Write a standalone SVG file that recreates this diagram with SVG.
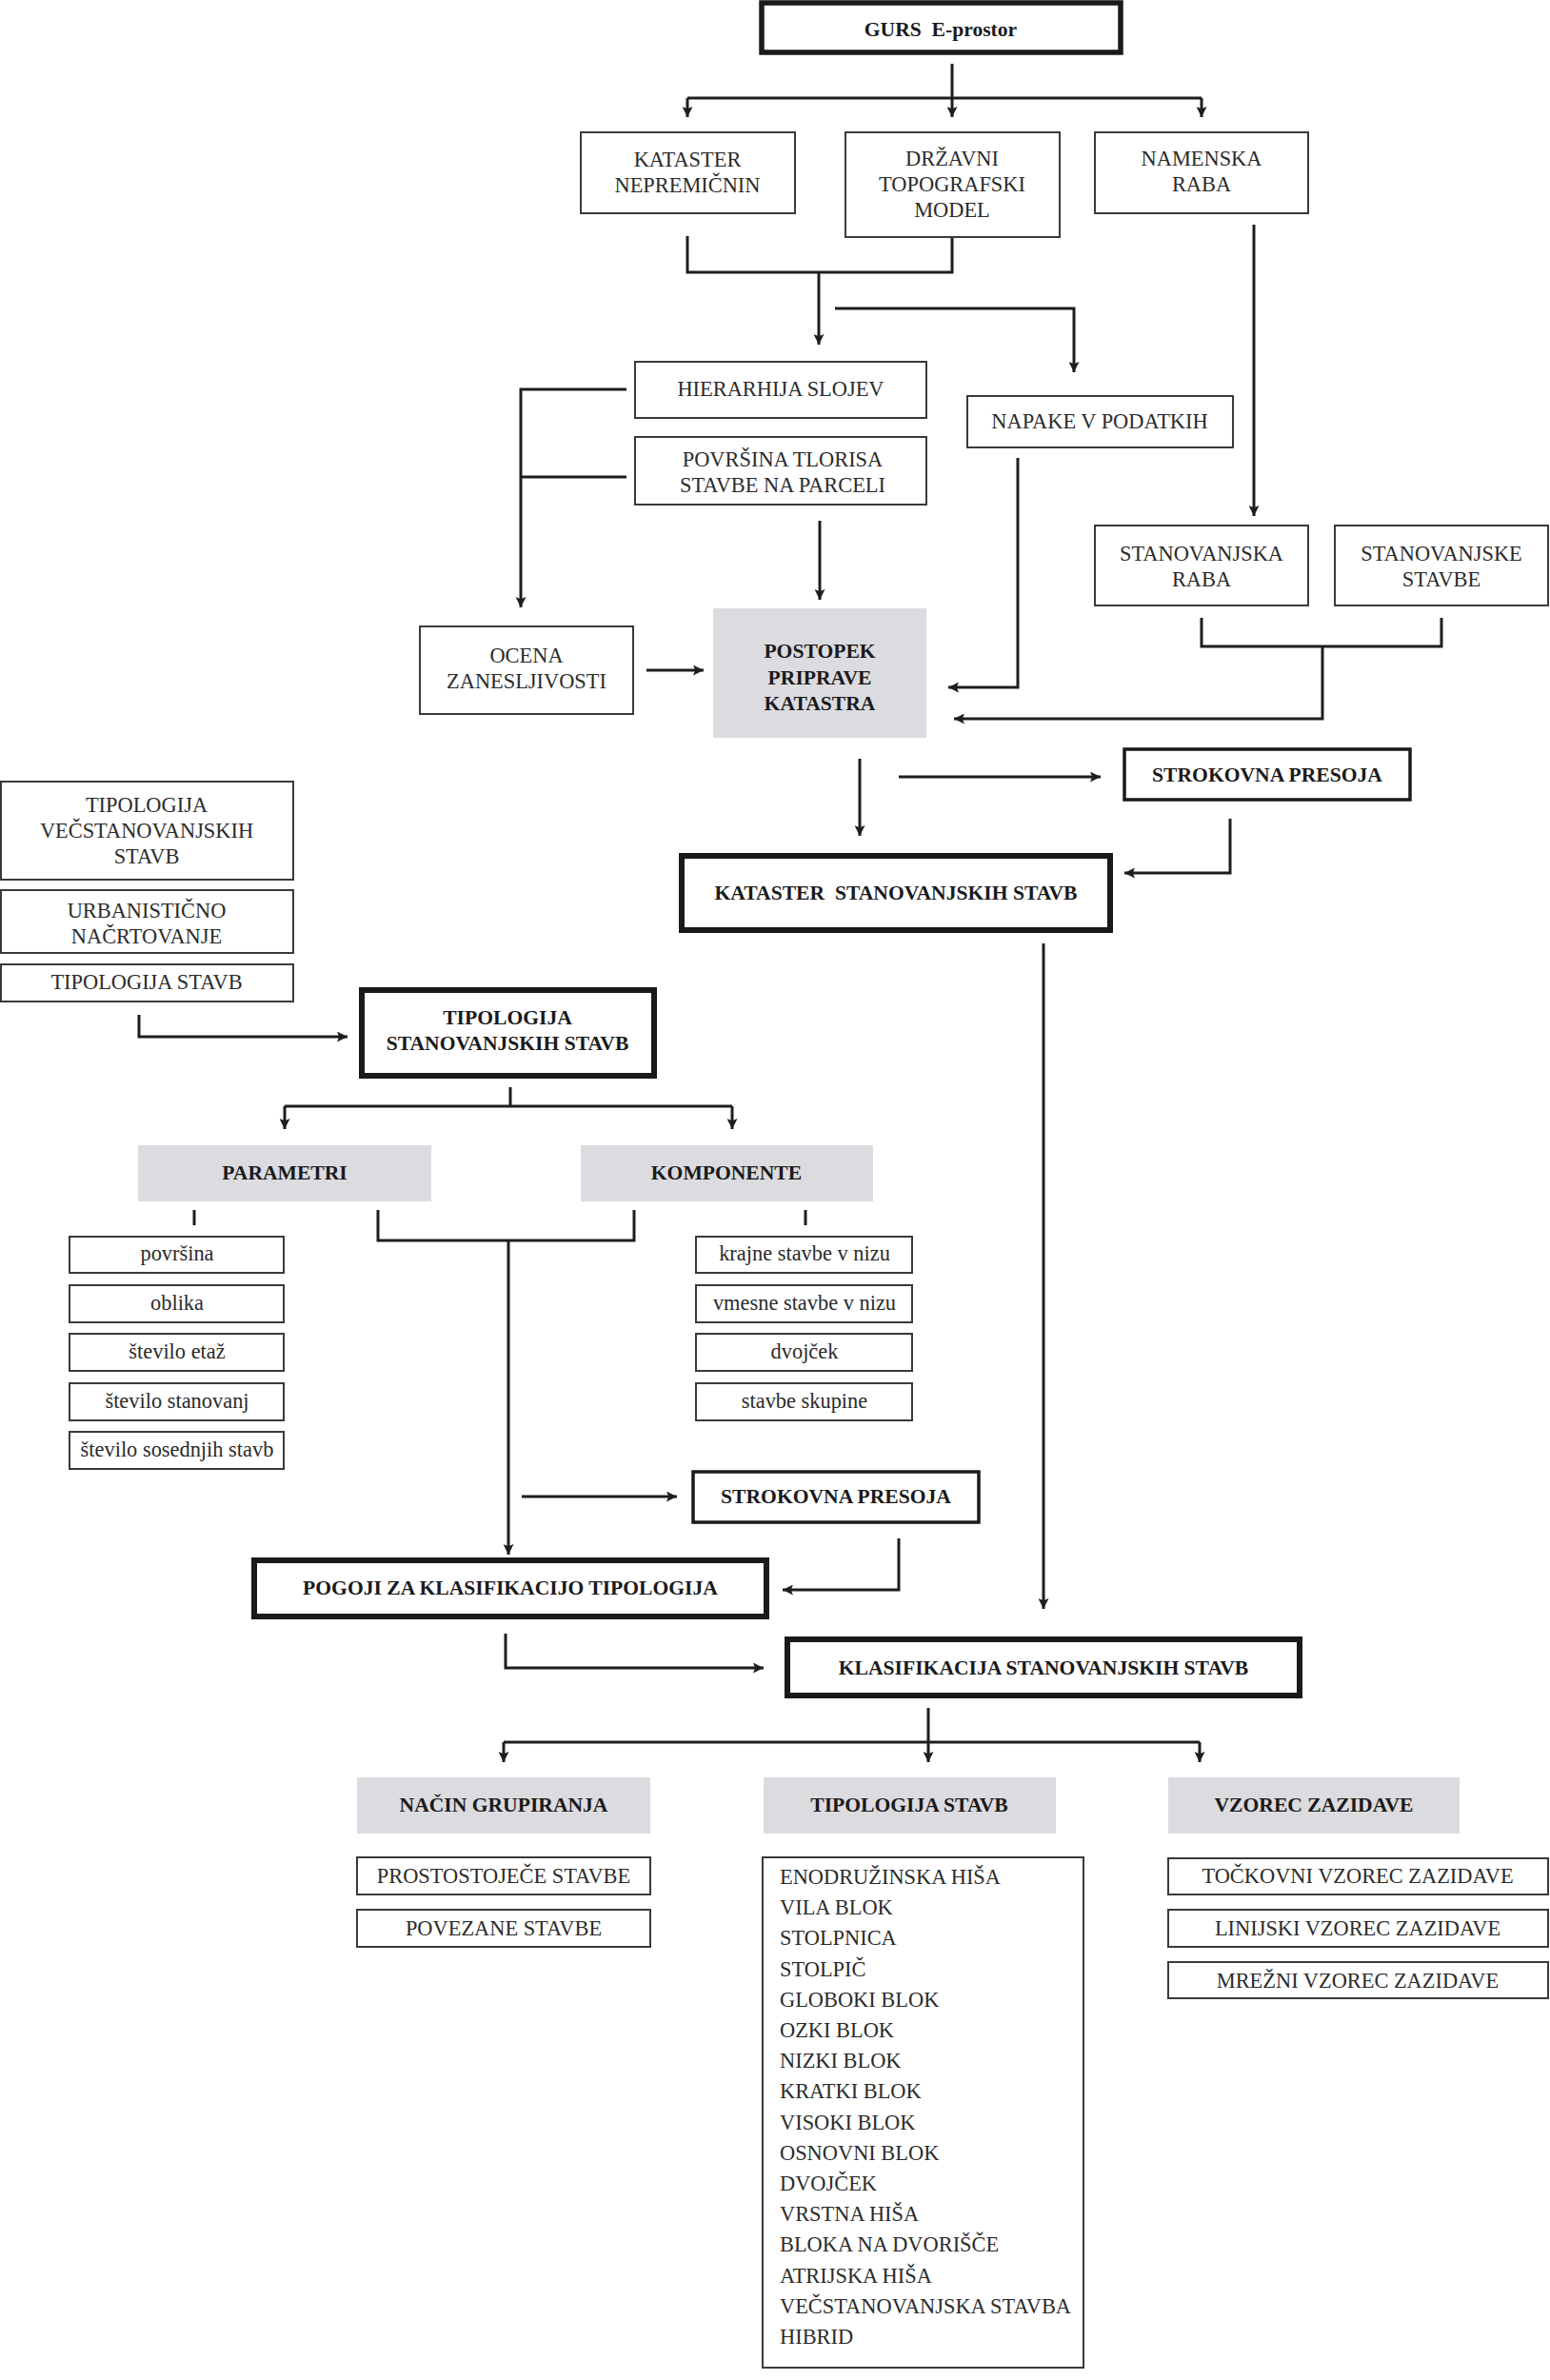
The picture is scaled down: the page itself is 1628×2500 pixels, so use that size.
<svg xmlns="http://www.w3.org/2000/svg" width="1628" height="2500" viewBox="0 0 1628 2500">
<style>
.box{fill:#fff;stroke:#3a3a3a;stroke-width:2}
.thick{fill:#fff;stroke:#1a1a1a;stroke-width:6}
.mid{fill:#fff;stroke:#1a1a1a;stroke-width:3.5}
.grey{fill:#dcdbe0}
.t{font-family:"Liberation Serif","Times New Roman",serif;font-size:22.4px;fill:#2b2b2b;text-anchor:middle}
.l{text-anchor:start}
.b{font-weight:bold;fill:#1a1a1a;font-size:21.6px}
.c{fill:none;stroke:#1e1e1e;stroke-width:3}
.a{marker-end:url(#ah)}
</style>
<defs>
<marker id="ah" viewBox="0 0 10 10" refX="10" refY="5" markerWidth="11" markerHeight="11" markerUnits="userSpaceOnUse" orient="auto">
<path d="M0,0 L10,5 L0,10 L2,5 z" fill="#1e1e1e"/>
</marker>
</defs>
<rect width="1628" height="2500" fill="#fff"/>

<g id="connectors">
<path class="c" d="M722,103 H1262"/>
<path class="c a" d="M1000,67 V123"/>
<path class="c a" d="M722,103 V123"/>
<path class="c a" d="M1262,103 V123"/>
<path class="c" d="M722,248 V286 H1000 V249"/>
<path class="c a" d="M860,286 V362"/>
<path class="c a" d="M877,324 H1128 V391"/>
<path class="c a" d="M658,409 H547 V638"/>
<path class="c" d="M658,501 H547"/>
<path class="c a" d="M861,547 V630"/>
<path class="c a" d="M679,704 H739"/>
<path class="c a" d="M1069,481 V722 H996"/>
<path class="c a" d="M1317,236 V542"/>
<path class="c" d="M1262,649 V679 H1514 V649"/>
<path class="c a" d="M1389,679 V755 H1002"/>
<path class="c a" d="M903,797 V878"/>
<path class="c a" d="M944,816 H1156"/>
<path class="c a" d="M1292,860 V917 H1181"/>
<path class="c a" d="M1096,991 V1690"/>
<path class="c a" d="M146,1066 V1089 H365"/>
<path class="c" d="M536,1142 V1162 M299,1162 H769"/>
<path class="c a" d="M299,1162 V1186"/>
<path class="c a" d="M769,1162 V1186"/>
<path class="c" d="M204,1271 V1287 M846,1271 V1287"/>
<path class="c" d="M397,1271 V1303 H666 V1271"/>
<path class="c a" d="M534,1303 V1633"/>
<path class="c a" d="M548,1572 H711"/>
<path class="c a" d="M944,1616 V1670 H822"/>
<path class="c a" d="M531,1716 V1752 H802"/>
<path class="c" d="M529,1830 H1260"/>
<path class="c a" d="M975,1794 V1851"/>
<path class="c a" d="M529,1830 V1851"/>
<path class="c a" d="M1260,1830 V1851"/>
</g>

<g id="n-gurs"><rect class="thick" x="800" y="3" width="377" height="52" style="stroke-width:5.5"/><text class="t b" x="988" y="38" xml:space="preserve">GURS  E-prostor</text></g>
<g id="n-kataster-nep"><rect class="box" x="610" y="139" width="225" height="85"/><text class="t" x="722" y="175">KATASTER</text><text class="t" x="722" y="202">NEPREMIČNIN</text></g>
<g id="n-drzavni"><rect class="box" x="888" y="139" width="225" height="110"/><text class="t" x="1000" y="174">DRŽAVNI</text><text class="t" x="1000" y="201">TOPOGRAFSKI</text><text class="t" x="1000" y="228">MODEL</text></g>
<g id="n-namenska"><rect class="box" x="1150" y="139" width="224" height="85"/><text class="t" x="1262" y="174">NAMENSKA</text><text class="t" x="1262" y="201">RABA</text></g>
<g id="n-hierarhija"><rect class="box" x="667" y="380" width="306" height="59"/><text class="t" x="820" y="416">HIERARHIJA SLOJEV</text></g>
<g id="n-povrsina"><rect class="box" x="667" y="459" width="306" height="71"/><text class="t" x="822" y="490">POVRŠINA TLORISA</text><text class="t" x="822" y="517">STAVBE NA PARCELI</text></g>
<g id="n-napake"><rect class="box" x="1016" y="416" width="279" height="54"/><text class="t" x="1155" y="450">NAPAKE V PODATKIH</text></g>
<g id="n-ocena"><rect class="box" x="441" y="658" width="224" height="92"/><text class="t" x="553" y="696">OCENA</text><text class="t" x="553" y="723">ZANESLJIVOSTI</text></g>
<g id="n-postopek"><rect class="grey" x="749" y="639" width="224" height="136"/><text class="t b" x="861" y="691">POSTOPEK</text><text class="t b" x="861" y="719">PRIPRAVE</text><text class="t b" x="861" y="746">KATASTRA</text></g>
<g id="n-stan-raba"><rect class="box" x="1150" y="552" width="224" height="84"/><text class="t" x="1262" y="589">STANOVANJSKA</text><text class="t" x="1262" y="616">RABA</text></g>
<g id="n-stan-stavbe"><rect class="box" x="1402" y="552" width="224" height="84"/><text class="t" x="1514" y="589">STANOVANJSKE</text><text class="t" x="1514" y="616">STAVBE</text></g>
<g id="n-strokovna1"><rect class="mid" x="1181" y="787" width="300" height="53"/><text class="t b" x="1331" y="821">STROKOVNA PRESOJA</text></g>
<g id="n-kataster-stan"><rect class="thick" x="716" y="899" width="450" height="78"/><text class="t b" x="941" y="945" xml:space="preserve">KATASTER  STANOVANJSKIH STAVB</text></g>
<g id="n-tip-vec"><rect class="box" x="1" y="821" width="307" height="103"/><text class="t" x="154" y="853">TIPOLOGIJA</text><text class="t" x="154" y="880">VEČSTANOVANJSKIH</text><text class="t" x="154" y="907">STAVB</text></g>
<g id="n-urb"><rect class="box" x="1" y="935" width="307" height="66"/><text class="t" x="154" y="964">URBANISTIČNO</text><text class="t" x="154" y="991">NAČRTOVANJE</text></g>
<g id="n-tip-stavb-l"><rect class="box" x="1" y="1013" width="307" height="39"/><text class="t" x="154" y="1039">TIPOLOGIJA STAVB</text></g>
<g id="n-tip-stan"><rect class="thick" x="380" y="1040" width="307" height="90"/><text class="t b" x="533" y="1076">TIPOLOGIJA</text><text class="t b" x="533" y="1103">STANOVANJSKIH STAVB</text></g>
<g id="n-parametri"><rect class="grey" x="145" y="1203" width="308" height="59"/><text class="t b" x="299" y="1239">PARAMETRI</text></g>
<g id="n-komponente"><rect class="grey" x="610" y="1203" width="307" height="59"/><text class="t b" x="763" y="1239">KOMPONENTE</text></g>
<g id="n-p1"><rect class="box" x="73" y="1299" width="225" height="38"/><text class="t" x="186" y="1324">površina</text></g>
<g id="n-p2"><rect class="box" x="73" y="1350" width="225" height="39"/><text class="t" x="186" y="1376">oblika</text></g>
<g id="n-p3"><rect class="box" x="73" y="1401" width="225" height="39"/><text class="t" x="186" y="1427">število etaž</text></g>
<g id="n-p4"><rect class="box" x="73" y="1453" width="225" height="39"/><text class="t" x="186" y="1479">število stanovanj</text></g>
<g id="n-p5"><rect class="box" x="73" y="1504" width="225" height="39"/><text class="t" x="186" y="1530">število sosednjih stavb</text></g>
<g id="n-k1"><rect class="box" x="731" y="1299" width="227" height="38"/><text class="t" x="845" y="1324">krajne stavbe v nizu</text></g>
<g id="n-k2"><rect class="box" x="731" y="1350" width="227" height="39"/><text class="t" x="845" y="1376">vmesne stavbe v nizu</text></g>
<g id="n-k3"><rect class="box" x="731" y="1401" width="227" height="39"/><text class="t" x="845" y="1427">dvojček</text></g>
<g id="n-k4"><rect class="box" x="731" y="1453" width="227" height="39"/><text class="t" x="845" y="1479">stavbe skupine</text></g>
<g id="n-strokovna2"><rect class="mid" x="728" y="1546" width="300" height="53"/><text class="t b" x="878" y="1579">STROKOVNA PRESOJA</text></g>
<g id="n-pogoji"><rect class="thick" x="267" y="1639" width="538" height="59"/><text class="t b" x="536" y="1675">POGOJI ZA KLASIFIKACIJO TIPOLOGIJA</text></g>
<g id="n-klasifikacija"><rect class="thick" x="827" y="1722" width="538" height="59"/><text class="t b" x="1096" y="1759">KLASIFIKACIJA STANOVANJSKIH STAVB</text></g>
<g id="n-nacin"><rect class="grey" x="375" y="1867" width="308" height="59"/><text class="t b" x="529" y="1903">NAČIN GRUPIRANJA</text></g>
<g id="n-tip-stavb"><rect class="grey" x="802" y="1867" width="307" height="59"/><text class="t b" x="955" y="1903">TIPOLOGIJA STAVB</text></g>
<g id="n-vzorec"><rect class="grey" x="1227" y="1867" width="306" height="59"/><text class="t b" x="1380" y="1903">VZOREC ZAZIDAVE</text></g>
<g id="n-prosto"><rect class="box" x="375" y="1951" width="308" height="39"/><text class="t" x="529" y="1978">PROSTOSTOJEČE STAVBE</text></g>
<g id="n-povezane"><rect class="box" x="375" y="2006" width="308" height="39"/><text class="t" x="529" y="2033">POVEZANE STAVBE</text></g>
<g id="n-tockovni"><rect class="box" x="1227" y="1952" width="399" height="38"/><text class="t" x="1426" y="1978">TOČKOVNI VZOREC ZAZIDAVE</text></g>
<g id="n-linijski"><rect class="box" x="1227" y="2006" width="399" height="39"/><text class="t" x="1426" y="2033">LINIJSKI VZOREC ZAZIDAVE</text></g>
<g id="n-mrezni"><rect class="box" x="1227" y="2061" width="399" height="38"/><text class="t" x="1426" y="2088">MREŽNI VZOREC ZAZIDAVE</text></g>
<g id="n-seznam"><rect class="box" x="801" y="1951" width="337" height="536"/>
<text class="t l" x="819" y="1979">ENODRUŽINSKA HIŠA</text>
<text class="t l" x="819" y="2011">VILA BLOK</text>
<text class="t l" x="819" y="2043">STOLPNICA</text>
<text class="t l" x="819" y="2076">STOLPIČ</text>
<text class="t l" x="819" y="2108">GLOBOKI BLOK</text>
<text class="t l" x="819" y="2140">OZKI BLOK</text>
<text class="t l" x="819" y="2172">NIZKI BLOK</text>
<text class="t l" x="819" y="2204">KRATKI BLOK</text>
<text class="t l" x="819" y="2237">VISOKI BLOK</text>
<text class="t l" x="819" y="2269">OSNOVNI BLOK</text>
<text class="t l" x="819" y="2301">DVOJČEK</text>
<text class="t l" x="819" y="2333">VRSTNA HIŠA</text>
<text class="t l" x="819" y="2365">BLOKA NA DVORIŠČE</text>
<text class="t l" x="819" y="2398">ATRIJSKA HIŠA</text>
<text class="t l" x="819" y="2430">VEČSTANOVANJSKA STAVBA</text>
<text class="t l" x="819" y="2462">HIBRID</text>
</g>
</svg>
